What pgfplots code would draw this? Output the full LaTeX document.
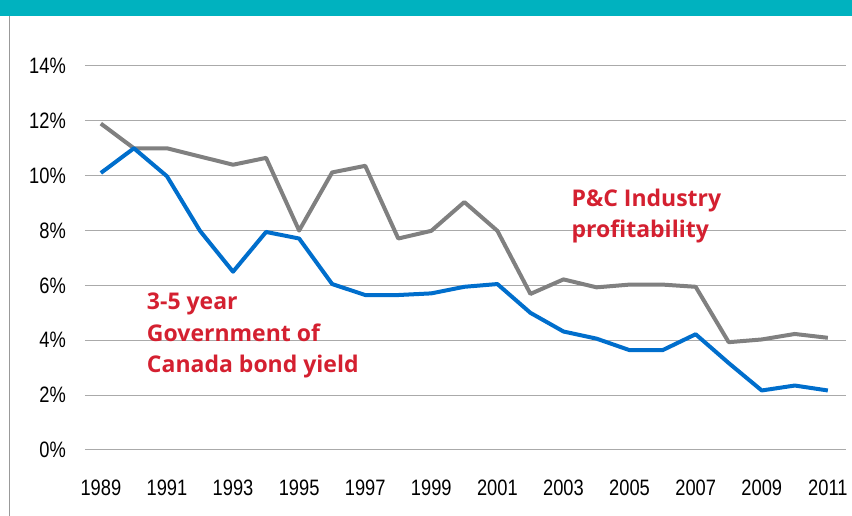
\documentclass[border=0pt]{standalone}
\usepackage{fontspec}
\usepackage{pgfplots}
\pgfplotsset{compat=1.18}
\setmainfont{Liberation Sans}
\newfontfamily\tickfont[FakeStretch=0.82]{Liberation Sans}
\newfontfamily\labfont{Open Sans}
\definecolor{tealbar}{RGB}{0,178,191}
\definecolor{blueline}{RGB}{0,110,204}
\definecolor{grayline}{RGB}{128,128,128}
\definecolor{gridgray}{RGB}{170,170,170}
\definecolor{labred}{RGB}{212,32,48}
\begin{document}
\begin{tikzpicture}[x=1pt,y=1pt]
\path[use as bounding box] (0,0) rectangle (852,516);
\fill[tealbar] (0,500) rectangle (852,516);
\draw[gray!80, line width=1.5pt] (9.5,0) -- (9.5,500);
\begin{axis}[
  at={(85pt,66pt)}, anchor=south west,
  scale only axis, width=761pt, height=384pt,
  xmin=1988.52, xmax=2011.55, ymin=0, ymax=14,
  axis line style={draw=none},
  major tick length=0pt,
  ymajorgrids, grid style={color=gridgray, line width=1pt},
  xtick={1989,1991,...,2011}, ytick={0,2,...,14},
  tick label style={font=\tickfont\fontsize{22.3}{26}\selectfont},
  /pgf/number format/assume math mode=true,
  /pgf/number format/1000 sep={},
  yticklabel={\pgfmathprintnumber{\tick}\%},
  yticklabel style={anchor=east, inner sep=0pt, xshift=-19pt},
  xticklabel style={anchor=base, inner sep=0pt, yshift=-46pt},
  clip=false,
]
\addplot[grayline, line width=4pt, line join=round, mark=none] coordinates {
(1989,11.9) (1990,11.0) (1991,11.0) (1992,10.7) (1993,10.4) (1994,10.65)
(1995,8.0) (1996,10.12) (1997,10.36) (1998,7.71) (1999,7.99) (2000,9.04)
(2001,7.99) (2002,5.69) (2003,6.22) (2004,5.93) (2005,6.03) (2006,6.03)
(2007,5.95) (2008,3.93) (2009,4.03) (2010,4.23) (2011,4.09)};
\addplot[blueline, line width=4pt, line join=round, mark=none] coordinates {
(1989,10.1) (1990,11.0) (1991,9.98) (1992,7.99) (1993,6.5) (1994,7.95)
(1995,7.71) (1996,6.05) (1997,5.65) (1998,5.65) (1999,5.71) (2000,5.95)
(2001,6.05) (2002,5.0) (2003,4.32) (2004,4.06) (2005,3.64) (2006,3.64)
(2007,4.22) (2008,3.17) (2009,2.17) (2010,2.35) (2011,2.17)};
\begin{scope}[every node/.style={anchor=base west, inner sep=0pt, text=labred, font=\labfont\bfseries\fontsize{23}{28}\selectfont}]
\node at (axis cs:1990.39,5.14) {3-5 year};
\node at (axis cs:1990.39,3.97) {Government of};
\node at (axis cs:1990.39,2.84) {Canada bond yield};
\node at (axis cs:2003.24,8.86) {P\&C Industry};
\node at (axis cs:2003.24,7.76) {profitability};
\end{scope}
\end{axis}
\end{tikzpicture}
\end{document}
